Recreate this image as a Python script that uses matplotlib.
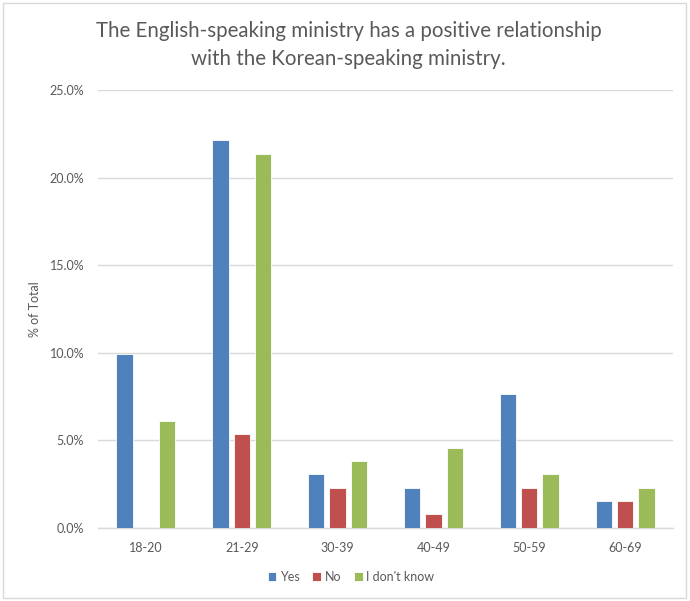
import matplotlib.pyplot as plt
from matplotlib.patches import Rectangle
from matplotlib.ticker import FuncFormatter
import numpy as np

plt.rcParams['font.family'] = ['Lato', 'DejaVu Sans']

age_groups = ['18-20', '21-29', '30-39', '40-49', '50-59', '60-69']
series_names = ['Yes', 'No', "I don't know"]
yes_pct = [9.92, 22.14, 3.05, 2.29, 7.63, 1.53]
no_pct = [0.0, 5.34, 2.29, 0.76, 2.29, 1.53]
dont_know_pct = [6.11, 21.37, 3.82, 4.58, 3.05, 2.29]
colors = ['#4F81BD', '#C0504D', '#9BBB59']

fig = plt.figure(figsize=(6.9, 6.01), dpi=100)
ax = fig.add_axes([98 / 690, 1 - 527.7 / 601, (673 - 98) / 690, (527.7 - 90) / 601])

x = np.arange(len(age_groups))
width = 0.17
step = 0.222
for i, (name, vals) in enumerate(zip(series_names, [yes_pct, no_pct, dont_know_pct])):
    ax.bar(x + (i - 1) * step, vals, width, color=colors[i], label=name,
           edgecolor='white', linewidth=0.6, zorder=3)

ax.set_xlim(-0.5, len(age_groups) - 0.5)
ax.set_ylim(0, 25)
ax.set_yticks(np.arange(0, 26, 5))
ax.yaxis.set_major_formatter(FuncFormatter(lambda v, p: f'{v:.1f}%'))
ax.set_xticks(x)
ax.set_xticklabels(age_groups)
ax.grid(axis='y', color='#D9D9D9', linewidth=1, zorder=0)
for side in ['top', 'right', 'left']:
    ax.spines[side].set_visible(False)
ax.spines['bottom'].set_color('#D9D9D9')
ax.spines['bottom'].set_linewidth(1)
ax.tick_params(length=0, labelsize=9, colors='#595959', pad=10)
ax.tick_params(axis='y', pad=10)
ax.set_ylabel('% of Total', fontsize=9, color='#595959', labelpad=6)

fig.text(0.505, 1 - 45 / 601, 'The English-speaking ministry has a positive relationship\nwith the Korean-speaking ministry.',
         ha='center', va='center', fontsize=14.8, color='#595959', linespacing=1.45)

ax.legend(loc='center', bbox_to_anchor=(351 / 690, 1 - 577 / 601), bbox_transform=fig.transFigure,
          ncol=3, frameon=False, fontsize=9, labelcolor='#595959', handlelength=0.7,
          handleheight=0.7, handletextpad=0.3, columnspacing=1.0)

fig.patches.append(Rectangle((3 / 690, 3 / 601), 683 / 690, 595 / 601, transform=fig.transFigure,
                             fill=False, edgecolor='#D9D9D9', linewidth=1))

fig.savefig('out.png', dpi=100)
